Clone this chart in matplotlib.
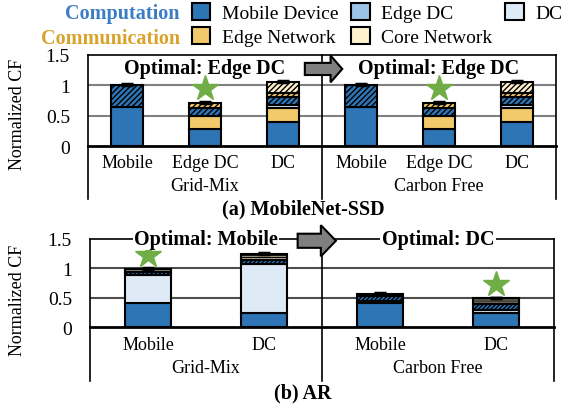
import matplotlib.pyplot as plt
import matplotlib.patches as mpatches
from matplotlib.patches import Patch
import numpy as np

plt.rcParams['font.family'] = ['Liberation Serif', 'DejaVu Serif']
plt.rcParams['hatch.linewidth'] = 1.0

C_MOBILE = '#2E75B6'
C_EDGEDC = '#9DC3E6'
C_DC = '#DEEBF7'
C_EDGENET = '#F2C96B'
C_CORENET = '#FFF2CC'
C_STAR = '#70AD47'

groups = ['Grid-Mix', 'Carbon Free']

# (a) MobileNet-SSD, layers bottom to top
cats_a = ['Mobile', 'Edge DC', 'DC', 'Mobile', 'Edge DC', 'DC']
a_mobile = [0.65, 0.28, 0.40, 0.65, 0.28, 0.40]
a_edge_net = [0, 0.22, 0.23, 0, 0.22, 0.23]
a_dc = [0, 0, 0.04, 0, 0, 0.04]
a_mobile_h = [0.35, 0.13, 0.14, 0.35, 0.13, 0.14]
a_edge_net_h = [0, 0.08, 0.06, 0, 0.08, 0.06]
a_core_net_h = [0, 0, 0.18, 0, 0, 0.18]
a_err = [0.015, 0.015, 0.015, 0.015, 0.015, 0.015]
a_best = [1, 4]
a_optimal = ['Optimal: Edge DC', 'Optimal: Edge DC']

# (b) AR
cats_b = ['Mobile', 'DC', 'Mobile', 'DC']
b_mobile = [0.41, 0.25, 0.42, 0.24]
b_dc = [0.47, 0.82, 0.02, 0.05]
b_mobile_h = [0.06, 0.08, 0.09, 0.10]
b_core_net_h = [0.05, 0.09, 0.04, 0.10]
b_err = [0.02, 0.015, 0.01, 0]
b_best = [0, 3]
b_optimal = ['Optimal: Mobile', 'Optimal: DC']

W, H = 571, 410
fig = plt.figure(figsize=(W / 100, H / 100), dpi=100)


def px_axes(left, right, y0, y15):
    return fig.add_axes([left / W, 1 - y0 / H, (right - left) / W, (y0 - y15) / H])


def stack(ax, layers, err, best):
    x = np.arange(len(layers[0][0]))
    bottom = np.zeros(len(x))
    for vals, color, hatch in layers:
        vals = np.array(vals, dtype=float)
        m = vals > 0
        ax.bar(x[m], vals[m], 0.4, bottom=bottom[m], color=color, hatch=hatch,
               edgecolor='black', linewidth=1.5, zorder=3)
        bottom += vals
    ax.errorbar(x, bottom, yerr=[np.zeros(len(x)), err], fmt='none', ecolor='black',
                elinewidth=1.5, capsize=4, capthick=2.5, zorder=4)
    ax.plot(x[best], bottom[best] + 0.24, ls='none', marker='*', ms=19,
            color=C_STAR, mec=C_STAR, zorder=5)
    return x


def common(ax, x, cats, n, drop, gridc):
    ax.set_xlim(-0.5, len(x) - 0.5)
    ax.set_ylim(0, 1.5)
    ax.set_yticks([0, 0.5, 1, 1.5], ['0', '0.5', '1', '1.5'], fontsize=14)
    ax.set_xticks(x, cats, fontsize=13)
    ax.tick_params(length=0, axis='y', pad=13)
    ax.tick_params(length=0, axis='x', pad=6)
    for s in ['left', 'right', 'top']:
        ax.spines[s].set_linewidth(1.2)
    ax.spines['bottom'].set_linewidth(2)
    for lv in [0.5, 1]:
        ax.axhline(lv, color=gridc, lw=1.5, zorder=1)
    mid = len(x) / 2 - 0.5
    ax.plot([mid, mid], [drop, 1.5], color='black', lw=1.2, clip_on=False, zorder=2)
    for xe in [-0.5, len(x) - 0.5]:
        ax.plot([xe, xe], [drop, 0], color='black', lw=1.2, clip_on=False)
    for i, g in enumerate(groups):
        ax.text(i * n + (n - 1) / 2, drop * 0.74, g, ha='center', va='center', fontsize=13)


# panel (a)
ax1 = px_axes(88, 556, 147, 56)
x1 = stack(ax1, [(a_mobile, C_MOBILE, None), (a_edge_net, C_EDGENET, None), (a_dc, C_DC, None),
                 (a_mobile_h, C_MOBILE, '//////'), (a_edge_net_h, C_EDGENET, '//////'),
                 (a_core_net_h, C_CORENET, '//////')], a_err, a_best)
common(ax1, x1, cats_a, 3, -0.87, '#808080')
for i, t in enumerate(a_optimal):
    ax1.text(i * 3 + 1, 1.29, t, ha='center', va='center', fontsize=14.5, fontweight='bold')
ax1.add_patch(mpatches.FancyArrow(2.28, 1.27, 0.33, 0, width=0.2, head_width=0.44, head_length=0.15,
                                  fc='#7F7F7F', ec='black', lw=1.5, zorder=6, clip_on=False))

# panel (b)
ax2 = px_axes(90, 554, 328.3, 240)
x2 = stack(ax2, [(b_mobile, C_MOBILE, None), (b_dc, C_DC, None),
                 (b_mobile_h, C_MOBILE, '////////'), (b_core_net_h, C_CORENET, '--------')],
           b_err, b_best)
common(ax2, x2, cats_b, 2, -0.92, '#4D4D4D')
for i, t in enumerate(b_optimal):
    ax2.text(i * 2 + 0.5, 1.5, t, ha='center', va='center', fontsize=14.5, fontweight='bold',
             bbox=dict(fc='white', ec='none', pad=1), zorder=7, clip_on=False)
ax2.add_patch(mpatches.FancyArrow(1.29, 1.47, 0.2, 0, width=0.24, head_width=0.53, head_length=0.13,
                                  fc='#7F7F7F', ec='black', lw=1.5, zorder=8, clip_on=False))

fig.text(18 / W, 1 - 114 / H, 'Normalized CF', rotation=90, ha='center', va='center', fontsize=13)
fig.text(18 / W, 1 - 300 / H, 'Normalized CF', rotation=90, ha='center', va='center', fontsize=13)
fig.text(303 / W, 1 - 209 / H, '(a) MobileNet-SSD', ha='center', va='center', fontsize=14.5, fontweight='bold')
fig.text(303 / W, 1 - 393 / H, '(b) AR', ha='center', va='center', fontsize=14.5, fontweight='bold')

# legend
fig.text(180 / W, 1 - 14 / H, 'Computation', ha='right', va='center', fontsize=14.5,
         fontweight='bold', color='#3B7DC4')
fig.text(180 / W, 1 - 39 / H, 'Communication', ha='right', va='center', fontsize=14.5,
         fontweight='bold', color='#D9A32B')
handles = [Patch(fc=C_MOBILE, ec='black', lw=1.5, label='Mobile Device'),
           Patch(fc=C_EDGENET, ec='black', lw=1.5, label='Edge Network'),
           Patch(fc=C_EDGEDC, ec='black', lw=1.5, label='Edge DC'),
           Patch(fc=C_CORENET, ec='black', lw=1.5, label='Core Network'),
           Patch(fc=C_DC, ec='black', lw=1.5, label='DC')]
fig.legend(handles=handles, ncol=3, loc='upper left', bbox_to_anchor=(192 / W, 1 - 4 / H),
           frameon=False, fontsize=14, borderpad=0, borderaxespad=0, handlelength=0.95,
           handleheight=0.95, handletextpad=0.6, columnspacing=0.65, labelspacing=0.25)

fig.savefig('out.png', dpi=100)
